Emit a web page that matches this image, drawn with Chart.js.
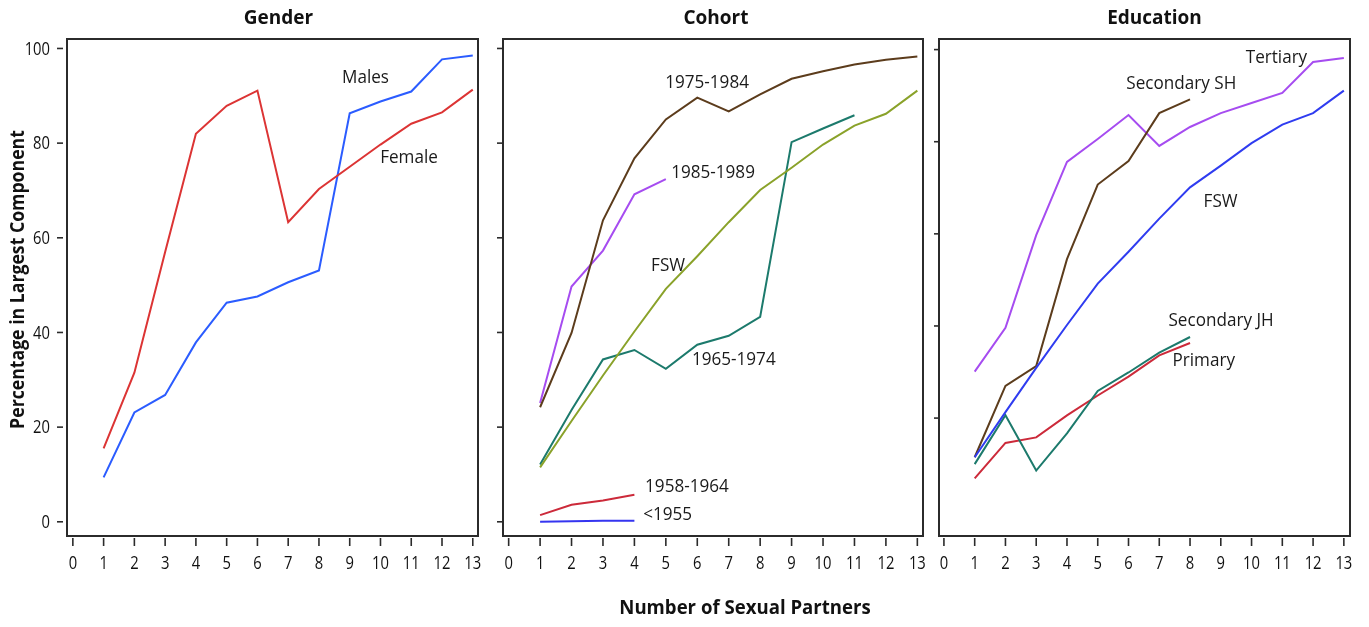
<!DOCTYPE html>
<html><head><meta charset="utf-8">
<script src="https://cdn.jsdelivr.net/npm/chart.js@4.4.1/dist/chart.umd.min.js"></script>
<style>
html,body{margin:0;padding:0;background:#fff;}
#wrap{position:relative;width:1369px;height:627px;overflow:hidden;background:#fff;}
.p{position:absolute;top:0;height:627px;}
</style></head><body>
<div id="wrap">
<div class="p" style="left:0;width:490px"><canvas id="c1" width="490" height="627"></canvas></div>
<div class="p" style="left:490px;width:440px"><canvas id="c2" width="440" height="627"></canvas></div>
<div class="p" style="left:930px;width:439px"><canvas id="c3" width="439" height="627"></canvas></div>
</div>
<script>
// ---------- data ----------
const partners = [1,2,3,4,5,6,7,8,9,10,11,12,13];
const xTickLabels = ['0','1','2','3','4','5','6','7','8','9','10','11','12','13'];
const yTickLabels = ['0','20','40','60','80','100'];

// Gender
const males  = [9.4,23.1,26.8,37.9,46.3,47.6,50.6,53.1,86.3,88.8,90.9,97.7,98.5];
const female = [15.5,31.5,57.0,82.0,87.9,91.1,63.3,70.3,75.0,79.7,84.1,86.5,91.3];

// Cohort
const c1975_1984 = [24.2,39.9,63.7,76.8,85.0,89.6,86.7,90.3,93.6,95.2,96.6,97.6,98.3];
const c1985_1989 = [25.1,49.7,57.3,69.2,72.4];
const fsw        = [11.5,21.3,30.9,40.2,49.2,56.1,63.3,70.1,74.8,79.7,83.7,86.2,91.1];
const c1965_1974 = [12.1,23.6,34.3,36.3,32.3,37.4,39.3,43.3,80.2,83.1,85.9];
const c1958_1964 = [1.4,3.6,4.5,5.7];
const cBefore1955 = [0.0,0.1,0.2,0.2];

// Education
const tertiary    = [30.1,39.6,59.7,75.6,80.6,85.8,79.1,83.2,86.2,88.4,90.6,97.3,98.2];
const secondarySH = [11.5,27.0,31.3,54.5,70.7,75.8,86.2,89.2];
const secondaryJH = [10.0,20.6,8.6,16.7,25.9,29.9,34.2,37.6];
const primary     = [6.9,14.6,15.8,20.6,24.9,29.0,33.6,36.3];

// ---------- helpers ----------
const FONT = '"Open Sans", "Noto Sans", "DejaVu Sans", sans-serif';
function pts(vals){ return vals.map((v,i)=>({x:partners[i], y:v})); }
function ds(label, vals, color){
  return {label, data: pts(vals), borderColor: color, backgroundColor: color,
          borderWidth: 2, pointRadius: 0, tension: 0, fill: false};
}
function txt(ctx, s, x, y, font, align, color, sx){
  ctx.save(); ctx.translate(x, y); ctx.scale(sx||1, 1);
  ctx.font = font; ctx.textAlign = align; ctx.textBaseline = 'middle';
  ctx.fillStyle = color; ctx.fillText(s, 0, 0); ctx.restore();
}

const decor = {
  id: 'decor',
  afterDraw(chart, args, o){
    const ctx = chart.ctx, a = chart.chartArea;
    const xs = chart.scales.x, ys = chart.scales.y;
    ctx.save();
    // frame
    ctx.strokeStyle = '#2b2b2b'; ctx.lineWidth = 2;
    ctx.strokeRect(a.left, a.top, a.right - a.left, a.bottom - a.top);
    // x ticks + labels
    ctx.lineWidth = 1.6;
    xs.ticks.forEach(t=>{
      const v = t.value;
      const px = xs.getPixelForValue(v);
      ctx.beginPath(); ctx.moveTo(px, a.bottom + 2); ctx.lineTo(px, a.bottom + 10); ctx.stroke();
      const lab = xTickLabels[v];
      if (lab !== undefined) txt(ctx, lab, px, a.bottom + 28, '18px ' + FONT, 'center', '#111', 0.82);
    });
    // y ticks + labels
    ys.ticks.forEach(t=>{
      const py = ys.getPixelForValue(t.value);
      ctx.beginPath(); ctx.moveTo(a.left - o.yTickOut, py); ctx.lineTo(a.left - o.yTickIn, py); ctx.stroke();
      if (o.yLabels){
        const lab = yTickLabels[Math.round(t.value/20)];
        txt(ctx, lab, a.left - 17, py + 1, '18px ' + FONT, 'right', '#111', 0.82);
      }
    });
    // panel title
    txt(ctx, o.title, (a.left + a.right)/2 + o.titleDx, 19, 'bold 19px ' + FONT, 'center', '#111', 1);
    // series labels
    o.labels.forEach(l=>{
      txt(ctx, l.text, xs.getPixelForValue(l.x), ys.getPixelForValue(l.y), '18px ' + FONT, 'left', '#1a1a1a', 0.95);
    });
    // axis titles
    if (o.yTitle){
      ctx.save(); ctx.translate(19, (a.top + a.bottom)/2 - 8); ctx.rotate(-Math.PI/2);
      ctx.scale(0.93, 1);
      ctx.font = 'bold 19px ' + FONT; ctx.textAlign = 'center'; ctx.textBaseline = 'middle';
      ctx.fillStyle = '#111'; ctx.fillText(o.yTitle, 0, 0); ctx.restore();
    }
    if (o.xTitle){
      txt(ctx, o.xTitle, o.xTitleX, 608, 'bold 20px ' + FONT, 'center', '#111', 0.93);
    }
    ctx.restore();
  }
};

function makePanel(id, datasets, pad, xr, yr, decorOpts, dropZeroTick){
  return new Chart(document.getElementById(id), {
    type: 'line',
    data: { datasets },
    options: {
      responsive: false, animation: false, devicePixelRatio: 1,
      layout: { padding: pad },
      plugins: { legend: {display:false}, tooltip: {enabled:false}, title:{display:false}, decor: decorOpts },
      scales: {
        x: { type: 'linear', display: false, min: xr[0], max: xr[1],
             ticks: { stepSize: 1, includeBounds: false } },
        y: { type: 'linear', display: false, min: yr[0], max: yr[1],
             ticks: { stepSize: 20, includeBounds: false },
             afterBuildTicks: dropZeroTick ? (s)=>{ s.ticks = s.ticks.filter(t=>t.value !== 0); } : undefined }
      }
    },
    plugins: [decor]
  });
}

makePanel('c1', [
  ds('Female', female, '#dc3434'),
  ds('Males', males, '#2b5cff')
], {left:67, right:12, top:39, bottom:91}, [-0.19, 13.17], [-3, 102], {
  title: 'Gender', titleDx: 6, yLabels: true, yTickOut: 10, yTickIn: 4,
  yTitle: 'Percentage in Largest Component',
  labels: [ {text:'Males', x:8.75, y:93.8}, {text:'Female', x:9.99, y:76.9} ]
});

makePanel('c2', [
  ds('FSW', fsw, '#8aa22a'),
  ds('1965-1974', c1965_1974, '#1c7a6c'),
  ds('1975-1984', c1975_1984, '#5c3c1c'),
  ds('1985-1989', c1985_1989, '#a64cf0'),
  ds('1958-1964', c1958_1964, '#cc2a3a'),
  ds('<1955', cBefore1955, '#3535f0')
], {left:13, right:7, top:39, bottom:91}, [-0.18, 13.18], [-3, 102], {
  title: 'Cohort', titleDx: 3, yLabels: false, yTickOut: 6, yTickIn: 0,
  xTitle: 'Number of Sexual Partners', xTitleX: 255,
  labels: [
    {text:'1975-1984', x:4.98, y:92.8},
    {text:'1985-1989', x:5.17, y:73.7},
    {text:'FSW', x:4.53, y:54.0},
    {text:'1965-1974', x:5.83, y:34.3},
    {text:'1958-1964', x:4.34, y:7.4},
    {text:'<1955', x:4.28, y:1.5}
  ]
});

makePanel('c3', [
  ds('FSW', fsw, '#2f3cf0'),
  ds('Secondary JH', secondaryJH, '#1c7a6c'),
  ds('Primary', primary, '#cc2a3a'),
  ds('Secondary SH', secondarySH, '#5c3c1c'),
  ds('Tertiary', tertiary, '#a64cf0')
], {left:9, right:19, top:39, bottom:91}, [-0.16, 13.2], [-5.6, 102.3], {
  title: 'Education', titleDx: 10, yLabels: false, yTickOut: 5, yTickIn: 0,
  labels: [
    {text:'Tertiary', x:9.81, y:98.3},
    {text:'Secondary SH', x:5.93, y:92.6},
    {text:'FSW', x:8.44, y:67.0},
    {text:'Secondary JH', x:7.30, y:41.1},
    {text:'Primary', x:7.43, y:32.4}
  ]
}, true);
</script>
</body></html>
